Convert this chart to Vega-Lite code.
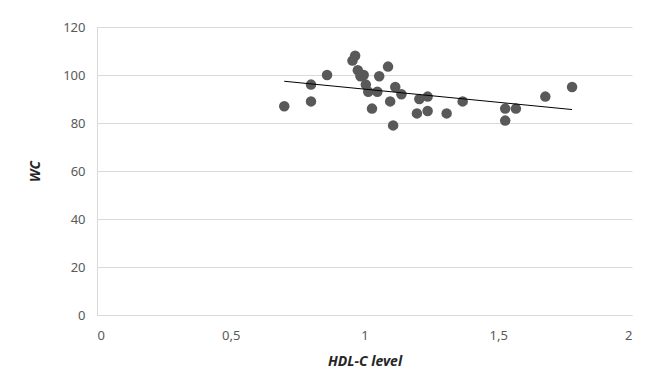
{
  "$schema": "https://vega.github.io/schema/vega-lite/v6.json",
  "width": 535,
  "height": 288,
  "autosize": {"type": "none"},
  "padding": {"left": 97, "top": 27, "right": 20, "bottom": 71},
  "background": "white",
  "config": {
    "view": {"stroke": null},
    "font": "Noto Sans",
    "axis": {"labelFont": "Noto Sans", "titleFont": "Noto Sans"}
  },
  "data": {
    "values": [
      {"hdl": 0.70, "wc": 87},
      {"hdl": 0.80, "wc": 96},
      {"hdl": 0.80, "wc": 89},
      {"hdl": 0.86, "wc": 100},
      {"hdl": 0.965, "wc": 108},
      {"hdl": 0.955, "wc": 106},
      {"hdl": 0.975, "wc": 102},
      {"hdl": 0.997, "wc": 100},
      {"hdl": 0.985, "wc": 99.5},
      {"hdl": 1.005, "wc": 96},
      {"hdl": 1.014, "wc": 93},
      {"hdl": 1.048, "wc": 93},
      {"hdl": 1.055, "wc": 99.5},
      {"hdl": 1.088, "wc": 103.5},
      {"hdl": 1.028, "wc": 86},
      {"hdl": 1.096, "wc": 89},
      {"hdl": 1.107, "wc": 79},
      {"hdl": 1.115, "wc": 95},
      {"hdl": 1.138, "wc": 92},
      {"hdl": 1.196, "wc": 84},
      {"hdl": 1.205, "wc": 90},
      {"hdl": 1.236, "wc": 91},
      {"hdl": 1.236, "wc": 85},
      {"hdl": 1.307, "wc": 84},
      {"hdl": 1.367, "wc": 89},
      {"hdl": 1.526, "wc": 86},
      {"hdl": 1.566, "wc": 86},
      {"hdl": 1.526, "wc": 81},
      {"hdl": 1.676, "wc": 91},
      {"hdl": 1.776, "wc": 95}
    ]
  },
  "encoding": {
    "x": {
      "field": "hdl",
      "type": "quantitative",
      "scale": {"domain": [0, 2], "nice": false, "zero": false},
      "axis": {
        "title": "HDL-C level",
        "values": [0, 0.5, 1, 1.5, 2],
        "labelExpr": "replace(format(datum.value, '~g'), '.', ',')",
        "grid": false,
        "ticks": false,
        "domain": true,
        "domainColor": "#d9d9d9",
        "labelColor": "#595959",
        "labelFontSize": 13,
        "labelPadding": 14,
        "titleFontSize": 14,
        "titleFontWeight": "bold",
        "titleFontStyle": "italic",
        "titleColor": "#262626",
        "titlePadding": 12
      }
    },
    "y": {
      "field": "wc",
      "type": "quantitative",
      "scale": {"domain": [0, 120], "nice": false},
      "axis": {
        "title": "WC",
        "values": [0, 20, 40, 60, 80, 100, 120],
        "grid": true,
        "gridColor": "#d9d9d9",
        "ticks": false,
        "domain": true,
        "domainColor": "#d9d9d9",
        "labelColor": "#595959",
        "labelFontSize": 13,
        "labelPadding": 12,
        "titleFontSize": 14,
        "titleFontWeight": "bold",
        "titleFontStyle": "italic",
        "titleColor": "#262626",
        "titlePadding": 20
      }
    }
  },
  "layer": [
    {
      "mark": {"type": "circle", "size": 110, "color": "#595959", "opacity": 1}
    },
    {
      "transform": [{"regression": "wc", "on": "hdl", "extent": [0.7, 1.776]}],
      "mark": {"type": "line", "color": "#000000", "strokeWidth": 1}
    }
  ]
}
